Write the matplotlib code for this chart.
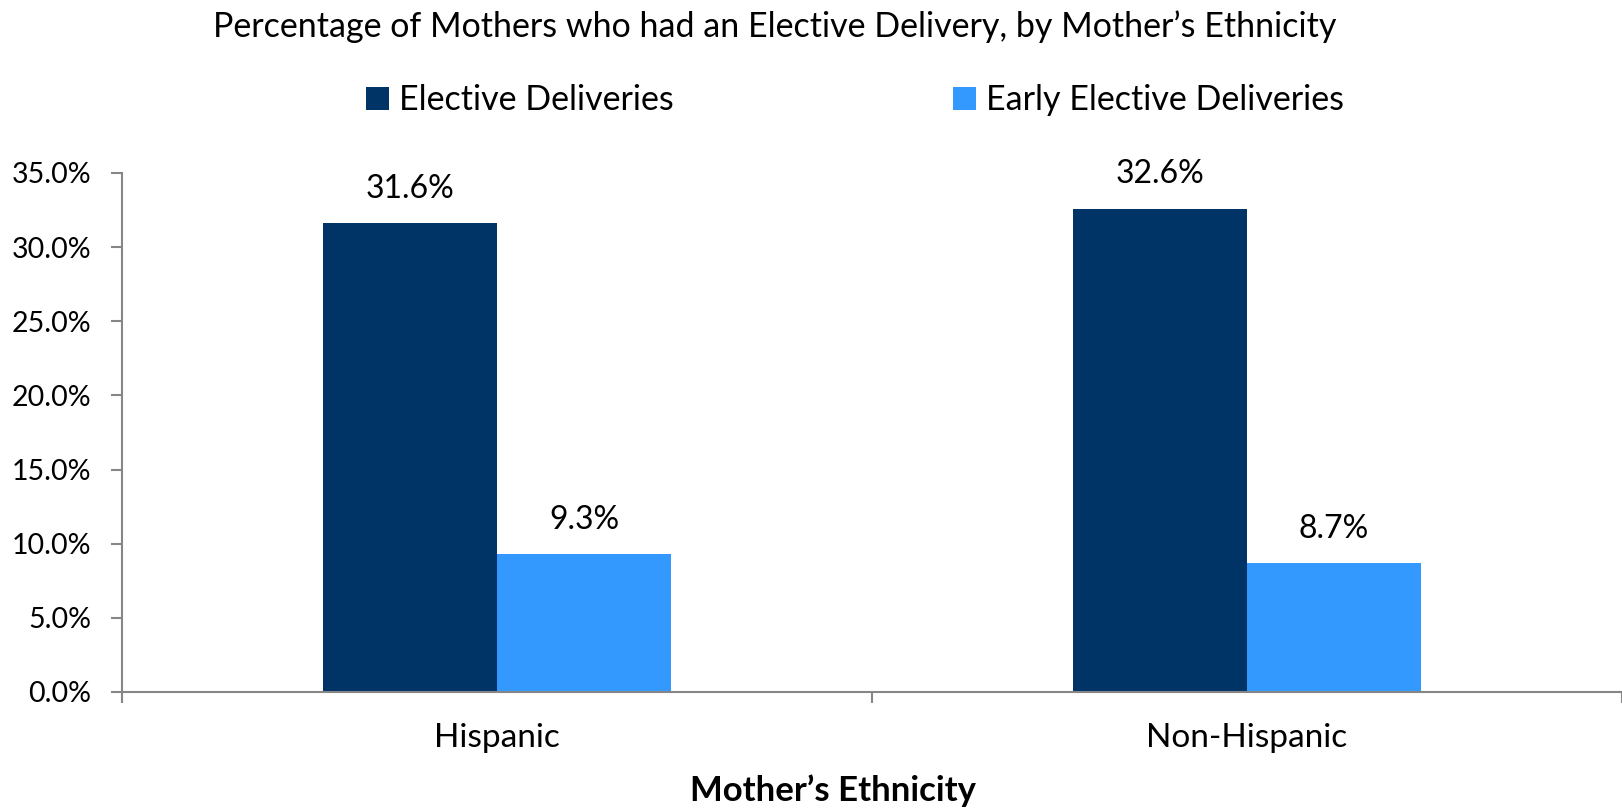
import numpy as np
import matplotlib.pyplot as plt
from matplotlib.patches import Patch
from matplotlib.ticker import FuncFormatter

plt.rcParams['font.family'] = ['Lato', 'DejaVu Sans']

categories = ["Hispanic", "Non-Hispanic"]
series_names = ["Elective Deliveries", "Early Elective Deliveries"]
elective = [31.6, 32.6]
early_elective = [9.3, 8.7]

colors = ["#003366", "#3399FF"]
axis_gray = "#868686"

fig = plt.figure(figsize=(16.22, 8.08), dpi=100)
ax = fig.add_axes([0.0752, 0.1436, 0.9248, 0.6423])

x = np.arange(len(categories))
width = 0.232

# Bars, one series per side of the category centre
for offset, vals, col in [(-width / 2, elective, colors[0]), (width / 2, early_elective, colors[1])]:
    bars = ax.bar(x + offset, vals, width, color=col)
    for b, v in zip(bars, vals):
        ax.text(b.get_x() + b.get_width() / 2, v + 2.3, f"{v:.1f}%",
                ha='center', va='center', fontsize=23)

ax.set_xlim(-0.5, 1.5)
ax.set_ylim(0, 35)
ax.set_yticks(np.arange(0, 35.1, 5))
ax.yaxis.set_major_formatter(FuncFormatter(lambda v, p: f"{v:.1f}%"))

ax.set_xticks(x)
ax.set_xticklabels(categories, fontsize=24)
ax.set_xticks([-0.5, 0.5, 1.5], minor=True)
ax.tick_params(axis='x', which='major', length=0, pad=22)
ax.tick_params(axis='x', which='minor', length=8, color=axis_gray, width=1.5)
ax.tick_params(axis='y', length=8, color=axis_gray, width=1.5, labelsize=20.5, pad=14)

for side in ['top', 'right']:
    ax.spines[side].set_visible(False)
for side in ['left', 'bottom']:
    ax.spines[side].set_color(axis_gray)
    ax.spines[side].set_linewidth(1.5)

ax.set_xlabel("Mother\u2019s Ethnicity", fontsize=25, fontweight='bold', va='center')
ax.xaxis.set_label_coords(0.474, -0.19)

fig.text(0.4775, 0.967, "Percentage of Mothers who had an Elective Delivery, by Mother\u2019s Ethnicity",
         ha='center', va='center', fontsize=24.5)

handles = [Patch(facecolor=c) for c in colors]
fig.legend(handles, series_names, loc='center', bbox_to_anchor=(0.527, 0.876), ncol=2,
           frameon=False, fontsize=24.5, handlelength=0.68, handleheight=0.68,
           handletextpad=0.3, columnspacing=8.2)

fig.savefig("out.png", dpi=100)
